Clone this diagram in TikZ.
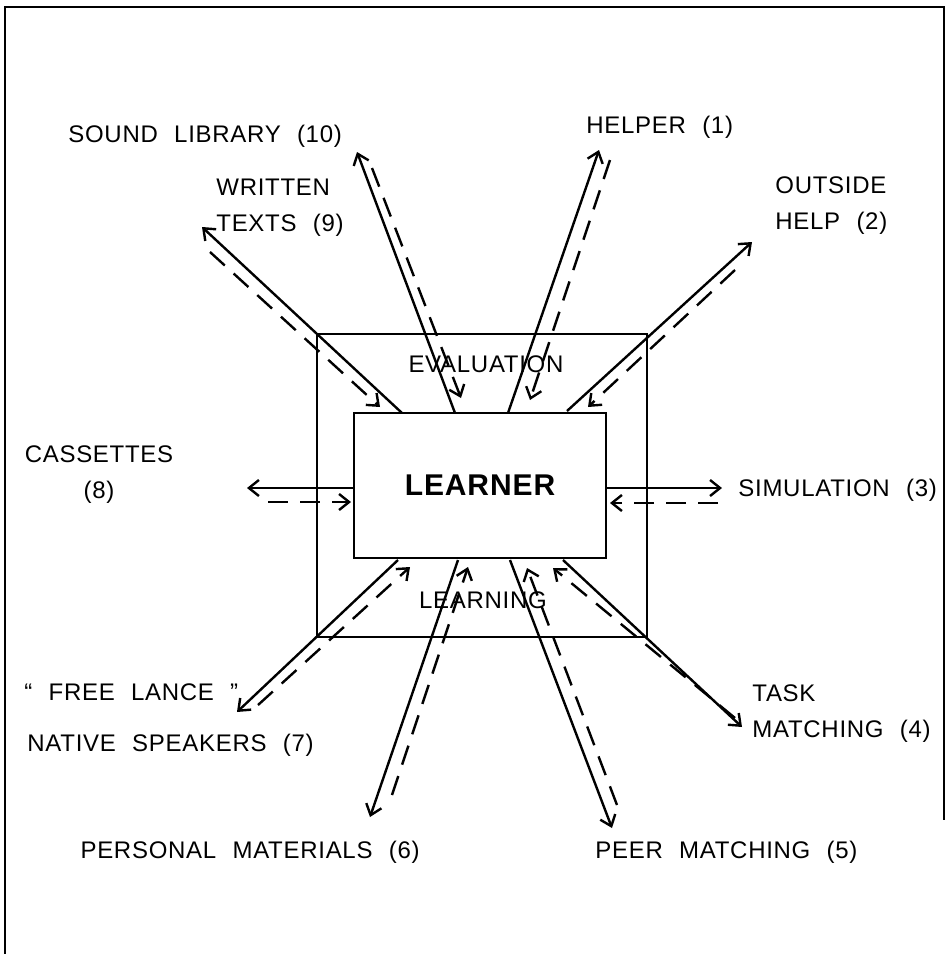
\documentclass[tikz,border=0pt]{standalone}
\usepackage{fontspec}
\setmainfont{Liberation Sans}[LetterSpace=3,WordSpace=2.2]
\usetikzlibrary{arrows.meta}
\tikzset{
  lbl/.style={inner sep=0pt, font=\fontsize{12}{18}\selectfont},
  solidarrow/.style={line width=1.2pt, -{Straight Barb[length=5pt,width=8pt]}},
  dasharrow/.style={line width=1.2pt, dash pattern=on 10pt off 6pt, -{Straight Barb[length=5pt,width=8pt]}},
  boxline/.style={draw, line width=1.3pt, inner sep=0pt}
}
\begin{document}
\begin{tikzpicture}[x=0.5pt,y=-0.5pt]
\useasboundingbox (0,0) rectangle (949,954);
% page frame
\draw[line width=1.4pt] (5,954) -- (5,7) -- (944,7) -- (944,820);
% inner square and learner box
\node[boxline, minimum width=165pt, minimum height=151.5pt] (frame) at (482,485.5) {};
\node[boxline, fill=white, minimum width=126pt, minimum height=72.5pt,
      font=\fontsize{15}{18}\bfseries] (learner) at (480,485.5) {LEARNER};
\node[lbl, anchor=center] (eval) at (486,364) {EVALUATION};
\node[lbl, anchor=center] (learning) at (483,600) {LEARNING};
% labels
\node[lbl, anchor=west] (sound) at (68,136) {SOUND LIBRARY (10)};
\node[lbl, anchor=west] (helper) at (586,127) {HELPER (1)};
\node[lbl, anchor=west, align=left] (written) at (216,208) {WRITTEN\\TEXTS (9)};
\node[lbl, anchor=west, align=left] (outside) at (775,206) {OUTSIDE\\HELP (2)};
\node[lbl, anchor=center, align=center] (cass) at (99,474.5) {CASSETTES\\(8)};
\node[lbl, anchor=west] (sim) at (738,490) {SIMULATION (3)};
\node[lbl, anchor=west] (free) at (24,692) {“ FREE LANCE ”};
\node[lbl, anchor=west] (native) at (27,745) {NATIVE SPEAKERS (7)};
\node[lbl, anchor=west, align=left] (task) at (752,714) {TASK\\MATCHING (4)};
\node[lbl, anchor=east] (personal) at (420,852) {PERSONAL MATERIALS (6)};
\node[lbl, anchor=west] (peer) at (595,852) {PEER MATCHING (5)};
% arrow end points
\coordinate (wS1) at (402,413); \coordinate (wS2) at (202,227);
\coordinate (wD1) at (210,252); \coordinate (wD2) at (380,407);
\coordinate (sS1) at (455,413); \coordinate (sS2) at (357,152);
\coordinate (sD1) at (372,168); \coordinate (sD2) at (461,398);
\coordinate (hS1) at (508,413); \coordinate (hS2) at (599,150);
\coordinate (hD1) at (610,160); \coordinate (hD2) at (530,400);
\coordinate (oS1) at (567,411); \coordinate (oS2) at (752,242);
\coordinate (oD1) at (735,270); \coordinate (oD2) at (588,407);
\coordinate (cS1) at (353,488); \coordinate (cS2) at (247,488);
\coordinate (cD1) at (268,502); \coordinate (cD2) at (351,502);
\coordinate (mS1) at (606,488); \coordinate (mS2) at (722,488);
\coordinate (mD1) at (718,503); \coordinate (mD2) at (610,503);
\coordinate (tS1) at (563,560); \coordinate (tS2) at (742,727);
\coordinate (tD1) at (735,718); \coordinate (tD2) at (553,568);
\coordinate (pS1) at (510,560); \coordinate (pS2) at (612,828);
\coordinate (pD1) at (617,805); \coordinate (pD2) at (527,568);
\coordinate (qS1) at (458,560); \coordinate (qS2) at (370,817);
\coordinate (qD1) at (392,795); \coordinate (qD2) at (468,567);
\coordinate (nS1) at (398,560); \coordinate (nS2) at (237,712);
\coordinate (nD1) at (258,705); \coordinate (nD2) at (410,567);
% arrows
\foreach \p in {w,s,h,o,c,m,t,p,q,n}{
  \draw[solidarrow] (\p S1) -- (\p S2);
  \draw[dasharrow] (\p D1) -- (\p D2);
}
\end{tikzpicture}
\end{document}
